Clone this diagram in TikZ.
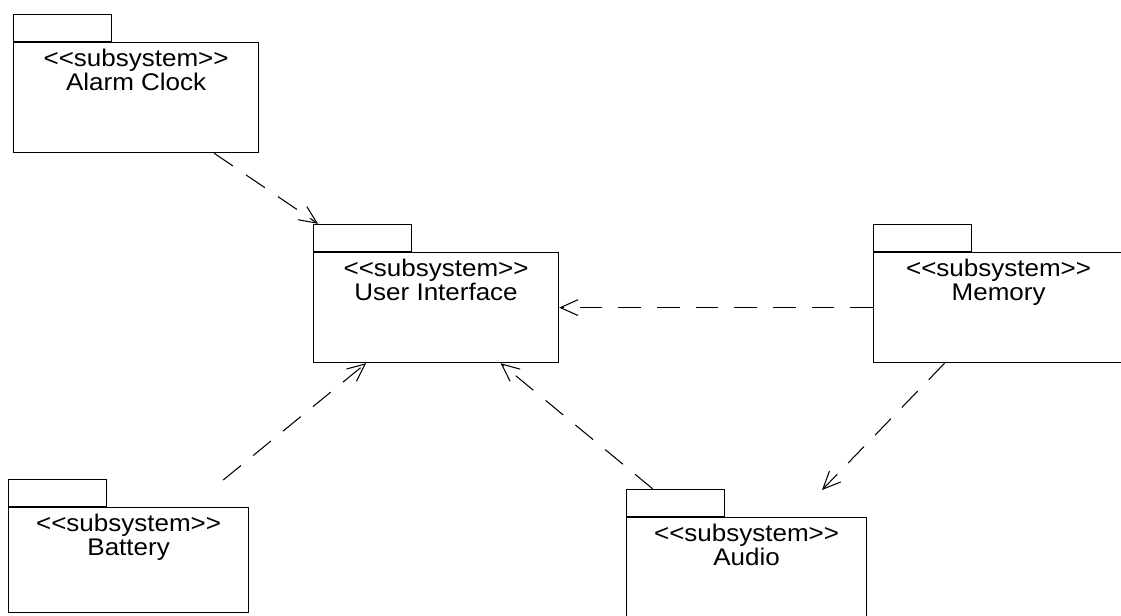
\documentclass[tikz,border=0pt]{standalone}
\usepackage{fontspec}
\setmainfont{Liberation Sans}[FakeStretch=1.08]
\usetikzlibrary{arrows.meta}

% stereotype line, kerns keep the << >> from turning into guillemets
\newcommand{\stereo}{<\kern0pt<subsystem>\kern0pt>}

\tikzset{
  pkg/.style={draw, line width=0.7pt, minimum width=4.9cm, minimum height=2.2cm,
    anchor=north west, inner sep=0pt},
  pkgtab/.style={draw, line width=0.7pt, minimum width=1.96cm, minimum height=0.54cm,
    anchor=south west, inner sep=0pt},
  pkgname/.style={align=center, anchor=north, inner sep=3.6pt,
    font=\fontsize{13.7pt}{13.7pt}\selectfont},
  dep/.style={dash pattern=on 13pt off 9pt, line width=0.6pt,
    -{Straight Barb[length=10pt,width=9pt]}},
}

\begin{document}
\begin{tikzpicture}[x=0.02cm, y=-0.02cm]
  \useasboundingbox (0,0) rectangle (1121,615);
  \clip (0,0) rectangle (1121,615);

  % package bodies, placed by their top left corner
  \node[pkg, label={[pkgname]north:{\stereo\\Alarm Clock}}] (clock) at (13,42) {};
  \node[pkg, label={[pkgname]north:{\stereo\\User Interface}}] (ui) at (313,252) {};
  \node[pkg, minimum width=5cm, label={[pkgname]north:{\stereo\\Memory}}] (mem) at (873,252) {};
  \node[pkg, minimum width=4.8cm, minimum height=2.1cm,
    label={[pkgname]north:{\stereo\\Battery}}] (bat) at (8,507) {};
  \node[pkg, minimum width=4.8cm, label={[pkgname]north:{\stereo\\Audio}}] (audio) at (626,517) {};

  % tabs
  \node[pkgtab] (clocktab) at (clock.north west) {};
  \node[pkgtab] (uitab) at (ui.north west) {};
  \node[pkgtab] (memtab) at (mem.north west) {};
  \node[pkgtab] (battab) at (bat.north west) {};
  \node[pkgtab] (audiotab) at (audio.north west) {};

  % dependencies
  \coordinate (audio-in) at (822,490);
  \draw[dep] ([xshift=1.56cm]clock.south) -- ([xshift=0.1cm]uitab.north west);
  \draw[dep] (mem.west) -- (ui.east);
  \draw[dep] ([shift={(-0.52cm,0.54cm)}]bat.north east) -- ([xshift=-1.4cm]ui.south);
  \draw[dep] ([xshift=-0.46cm]audiotab.north) -- ([xshift=1.29cm]ui.south);
  \draw[dep] ([xshift=-1.08cm]mem.south) -- (audio-in);
\end{tikzpicture}
\end{document}
